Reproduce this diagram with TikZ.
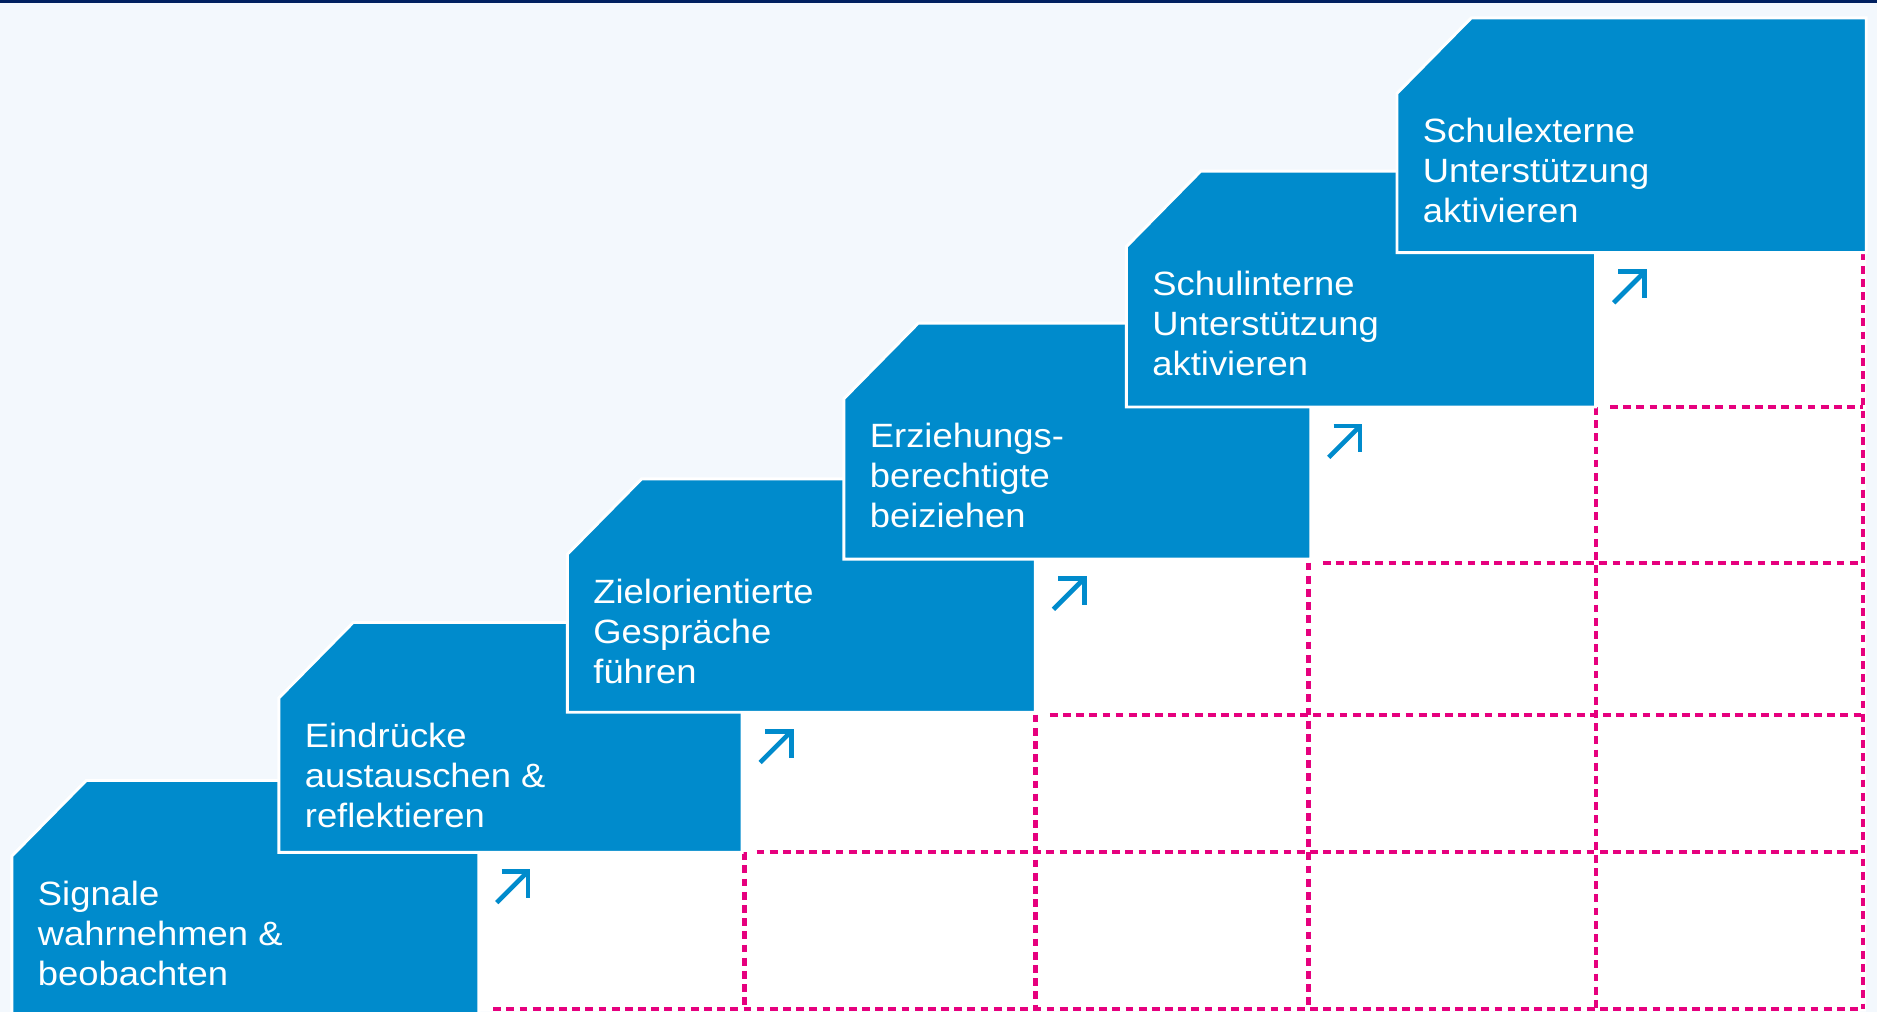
\documentclass[tikz,border=0pt]{standalone}
\usepackage{fontspec}
\setmainfont{Liberation Sans}[FakeStretch=1.08]
\usepackage{tikz}
\usepackage{xcolor}
\definecolor{stepblue}{RGB}{0,139,204}
\definecolor{gridpink}{RGB}{230,0,126}
\definecolor{paleblue}{RGB}{243,248,253}
\definecolor{topnavy}{RGB}{0,32,96}
\def\cut{62}

\begin{document}
\begin{tikzpicture}[x=0.01cm, y=-0.01cm]
    \tikzstyle{stepbox}=[fill=stepblue, draw=white, line width=0.7pt, line join=miter]
    \tikzstyle{steptext}=[text=white, align=left, inner sep=0pt, font=\fontsize{8}{9.5}\selectfont]
    \tikzstyle{stairarrow}=[draw=stepblue, line width=1.1pt, line join=miter]
    \tikzstyle{grid}=[draw=gridpink, line width=1pt, dash pattern=on 0.65mm off 0.45mm]

    % Background and the bar on top
    \useasboundingbox (0,0) rectangle (1568,845);
    \fill[paleblue] (0,0) rectangle (1568,845);
    \fill[topnavy] (0,0) rectangle (1568,2.5);

    % White area under the stairs
    \fill[white] (400,845) |- (620,712) |- (865,595) |- (1095,467) |- (1333,340) |- (1559,211) -- (1559,845) -- cycle;

    % Draw the dashed grid
    \foreach \x / \y in {400/843, 620/712, 865/597, 1093/470, 1333/340}
        \draw[grid] (\x+12,\y) -- (1556,\y);
    \foreach \x / \y in {622/712, 865/597, 1093/470, 1333/340, 1556/211}
        \draw[grid] (\x,\y) -- (\x,843);

    % Draw the steps
    \foreach \name / \l / \t / \r / \b / \txt in {
        1/10/652/400/850/{Signale\\wahrnehmen \&\\beobachten},
        2/233/520/620/712/{Eindrücke\\austauschen \&\\reflektieren},
        3/474/400/865/595/{Zielorientierte\\Gespräche\\führen},
        4/705/270/1095/467/{Erziehungs-\\berechtigte\\beiziehen},
        5/941/143/1333/340/{Schulinterne\\Unterstützung\\aktivieren},
        6/1167/15/1559/211/{Schulexterne\\Unterstützung\\aktivieren}}
    {
        \filldraw[stepbox] (\l,\t+63) -- (\l+\cut,\t) -- (\r,\t) -- (\r,\b) -- (\l,\b) -- cycle;
        \node[steptext, anchor=north west] (S-\name) at (\l+21,\t+83) {\txt};
    }

    % Arrows in the corners of the steps
    \foreach \name / \x / \y in {1/400/712, 2/620/595, 3/865/467, 4/1095/340, 5/1333/211}
    {
        \coordinate (A-\name) at (\x+41,\y+16);
        \draw[stairarrow] (A-\name) ++(-22,0) -- ++(22,0) -- ++(0,22);
        \draw[stairarrow] (A-\name) -- ++(-26,26);
    }

\end{tikzpicture}
\end{document}
